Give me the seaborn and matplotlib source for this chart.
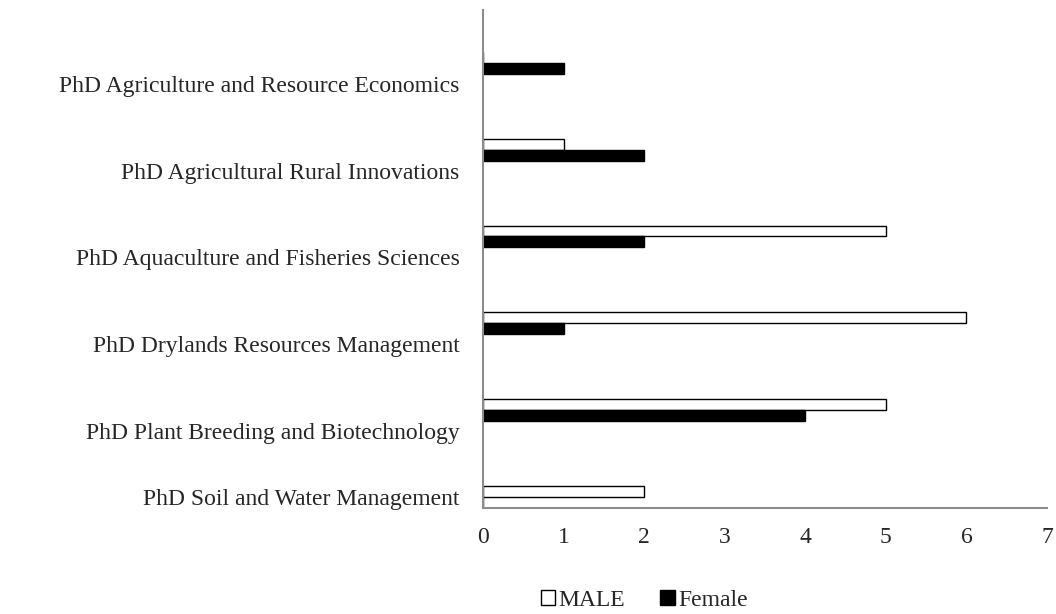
import pandas as pd
import matplotlib.pyplot as plt
import seaborn as sns
from matplotlib.transforms import ScaledTranslation

programmes = ['PhD Agriculture and Resource Economics',
              'PhD Agricultural Rural Innovations',
              'PhD Aquaculture and Fisheries Sciences',
              'PhD Drylands Resources Management',
              'PhD Plant Breeding and Biotechnology',
              'PhD Soil and Water Management']
male = [0, 1, 5, 6, 5, 2]
female = [1, 2, 2, 1, 4, 0]
genders = ['MALE', 'Female']

df = pd.DataFrame({'programme': programmes * 2,
                   'gender': ['MALE'] * len(male) + ['Female'] * len(female),
                   'count': male + female})

sns.set_style('white')
plt.rcParams['font.family'] = ['Liberation Serif', 'DejaVu Serif']

fig = plt.figure(figsize=(10.56, 6.14), dpi=100)
ax = fig.add_axes([0.4574, 0.1726, 0.5341, 0.8111])

sns.barplot(data=df, x='count', y='programme', hue='gender', hue_order=genders,
            palette={'MALE': 'white', 'Female': 'black'}, orient='h',
            width=0.25, edgecolor='black', linewidth=1, ax=ax)

ax.set_xlim(0, 7)
ax.set_ylim(5.13, -0.61)
ax.set_xticks(range(0, 8))
ax.set_xlabel('')
ax.set_ylabel('')
ax.tick_params(axis='both', length=0, labelsize=17)
ax.tick_params(axis='x', pad=14)
ax.tick_params(axis='y', pad=17)

# labels sit a little below the bars, as in the original
labels = ax.get_yticklabels()
for i, lbl in enumerate(labels):
    shift = -15 if i < len(labels) - 1 else 0
    lbl.set_transform(lbl.get_transform() + ScaledTranslation(0, shift / 72, fig.dpi_scale_trans))

for side in ['top', 'right']:
    ax.spines[side].set_visible(False)
for side in ['left', 'bottom']:
    ax.spines[side].set_color('#8c8c8c')
    ax.spines[side].set_linewidth(1.5)

ax.legend(loc='center', bbox_to_anchor=(0.61, 0.022), bbox_transform=fig.transFigure,
          ncol=2, frameon=False, fontsize=17, handlelength=0.6, handleheight=0.6,
          handletextpad=0.15, columnspacing=1.5)

plt.savefig('out.png', dpi=100)
